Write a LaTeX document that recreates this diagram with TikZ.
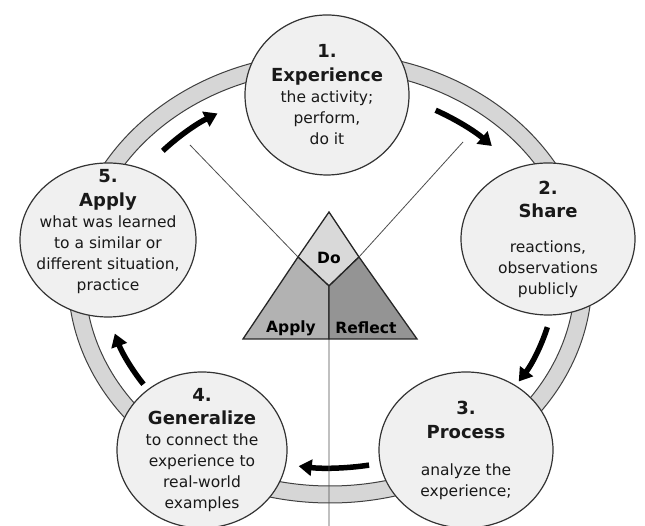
\documentclass[tikz,border=0pt]{standalone}
\usepackage{fontspec}
\setmainfont{DejaVu Sans}
\usetikzlibrary{shapes.geometric,arrows.meta}

\begin{document}
\begin{tikzpicture}[x=1pt,y=1pt,
  stage/.style={ellipse,draw=black!80,line width=1.2pt,fill=black!6,inner sep=0pt},
  stagetext/.style={align=center,font=\fontsize{15.5}{21}\selectfont,text=black!90},
  cyclearrow/.style={line width=5.5pt,-{Triangle[width=16pt,length=13pt]}},
  part/.style={font=\bfseries\fontsize{15.5}{17}\selectfont}]
\useasboundingbox (0,0) rectangle (645,526);
\coordinate (ring) at (330,248);
\fill[black!16,even odd rule] (ring) ellipse[x radius=262,y radius=225] (ring) ellipse[x radius=245,y radius=208];
\draw[black!75,line width=1pt] (ring) ellipse[x radius=262,y radius=225];
\draw[black!75,line width=1pt] (ring) ellipse[x radius=245,y radius=208];
\foreach \a/\b in {62/44,-15/-33,-80/-98,214/197,138/120}
  \draw[cyclearrow] ([shift={(\a:225 and 190)}]ring) arc[start angle=\a,end angle=\b,x radius=225,y radius=190];
% triangle
\coordinate (top) at (329,314);
\coordinate (bl) at (243,187);
\coordinate (br) at (417,187);
\coordinate (lm) at (298,269);
\coordinate (rm) at (359,269);
\coordinate (mid) at (329,240);
\coordinate (bm) at (329,187);
\coordinate (lend) at (190,381);
\coordinate (rend) at (463,384);
\coordinate (foot) at (329,0);
\filldraw[fill=black!15,draw=black!85,line width=1.3pt] (top) -- (rm) -- (mid) -- (lm) -- cycle;
\filldraw[fill=black!30,draw=black!85,line width=1.3pt] (lm) -- (mid) -- (bm) -- (bl) -- cycle;
\filldraw[fill=black!42,draw=black!85,line width=1.3pt] (rm) -- (br) -- (bm) -- (mid) -- cycle;
\draw[black!70,line width=0.8pt] (lend) -- (lm) (rend) -- (rm) (bm) -- (foot);
\node[part] (do) at (329,268) {Do};
\node[part] (apply) at (291,198) {Apply};
\node[part] (reflect) at (366,198) {Reflect};
% stages
\node[stage,minimum width=164,minimum height=160] (s1) at (327,431) {};
\node[stage,minimum width=174,minimum height=152] (s2) at (548,287) {};
\node[stage,minimum width=174,minimum height=156] (s3) at (466,76) {};
\node[stage,minimum width=170,minimum height=156] (s4) at (202,76) {};
\node[stage,minimum width=176,minimum height=154] (s5) at (108,286) {};
\node[stagetext] (t1) at (s1) {{\bfseries\fontsize{18}{21}\selectfont 1.}\\[3pt]{\bfseries\fontsize{18}{21}\selectfont Experience}\\the activity;\\perform,\\do it};
\node[stagetext] (t2) at (s2) {{\bfseries\fontsize{18}{21}\selectfont 2.}\\[2pt]{\bfseries\fontsize{18}{21}\selectfont Share}\\[14pt]reactions,\\observations\\publicly};
\node[stagetext] (t3) at (s3) {{\bfseries\fontsize{18}{21}\selectfont 3.}\\[3pt]{\bfseries\fontsize{18}{21}\selectfont Process}\\[16pt]analyze the\\experience;};
\node[stagetext] (t4) at (s4) {{\bfseries\fontsize{18}{21}\selectfont 4.}\\[2pt]{\bfseries\fontsize{18}{21}\selectfont Generalize}\\to connect the\\experience to\\real-world\\examples};
\node[stagetext] (t5) at ([yshift=8]s5) {{\bfseries\fontsize{18}{21}\selectfont 5.}\\[3pt]{\bfseries\fontsize{18}{21}\selectfont Apply}\\what was learned\\to a similar or\\different situation,\\practice};
\end{tikzpicture}
\end{document}
